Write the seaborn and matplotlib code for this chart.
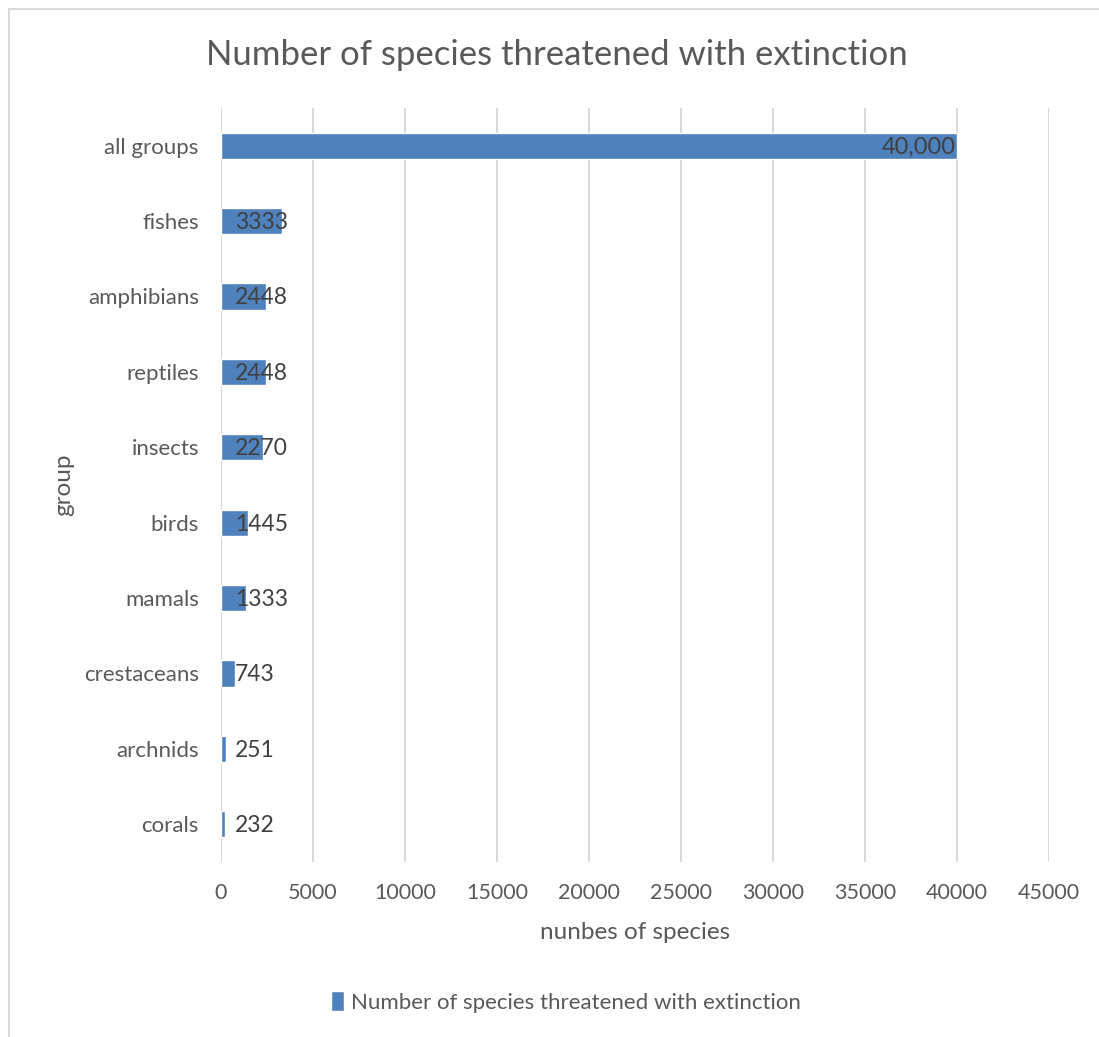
import matplotlib
matplotlib.use("Agg")
import matplotlib.pyplot as plt
import seaborn as sns
import pandas as pd
from matplotlib.patches import Rectangle

groups = ["all groups", "fishes", "amphibians", "reptiles", "insects", "birds",
          "mamals", "crestaceans", "archnids", "corals"]
species = [40000, 3333, 2448, 2448, 2270, 1445, 1333, 743, 251, 232]
x_ticks = [0, 5000, 10000, 15000, 20000, 25000, 30000, 35000, 40000, 45000]
series_name = "Number of species threatened with extinction"

df = pd.DataFrame({"group": groups, "species": species})

sns.set_theme(style="white")
plt.rcParams["font.family"] = ["Lato", "DejaVu Sans"]

W, H = 1099, 1037
fig = plt.figure(figsize=(W / 100, H / 100), dpi=100)
ax = fig.add_axes([221 / W, 1 - 862 / H, (1049 - 221) / W, (862 - 108) / H])

BLUE = "#4f81bd"
TXT = "#595959"
DARK = "#404040"
GRID = "#d9d9d9"

sns.barplot(data=df, y="group", x="species", orient="h", color=BLUE,
            width=0.35, ax=ax, label=series_name, saturation=1)
handles, labels = ax.get_legend_handles_labels()
if ax.get_legend() is not None:
    ax.get_legend().remove()

ax.set_xlim(0, 45000)
ax.set_ylim(len(groups) - 0.5, -0.5)
ax.set_xticks(x_ticks)
ax.set_xticklabels([str(t) for t in x_ticks])
ax.xaxis.grid(True, color=GRID, linewidth=1.5)
ax.yaxis.grid(False)
ax.set_axisbelow(True)
for s in ax.spines.values():
    s.set_visible(False)
ax.tick_params(axis="x", length=0, pad=15, labelsize=15.5, labelcolor=TXT)
ax.tick_params(axis="y", length=0, pad=16, labelsize=16, labelcolor=TXT)

ax.set_xlabel("nunbes of species", fontsize=17.5, color=TXT)
ax.set_ylabel("group", fontsize=17.5, color=TXT)
ax.xaxis.set_label_coords(0.5, (862 - 922) / 754)
ax.yaxis.set_label_coords((74 - 221) / 828, 0.5)

for i, v in enumerate(species):
    if v >= 10000:
        ax.annotate(f"{v:,}", xy=(v, i), xytext=(-1, -1), textcoords="offset points",
                    ha="right", va="center", fontsize=17, color=DARK)
    else:
        ax.annotate(str(v), xy=(0, i), xytext=(10, -1), textcoords="offset points",
                    ha="left", va="center", fontsize=16.5, color=DARK)

fig.text(557 / W, 1 - 55 / H, series_name, ha="center", va="center",
         fontsize=25, color=TXT)

fig.legend(handles, labels, loc="center", bbox_to_anchor=(566 / W, 1 - 1002 / H),
           frameon=False, fontsize=16, handlelength=0.6, handleheight=1.0,
           handletextpad=0.3, labelcolor=TXT)

fig.patches.append(Rectangle((9 / W, -0.1), 1.2, 1 - 9 / H + 0.1,
                             transform=fig.transFigure, fill=False,
                             edgecolor=GRID, linewidth=1.5, figure=fig))

fig.savefig("out.png", dpi=100, facecolor="white")
